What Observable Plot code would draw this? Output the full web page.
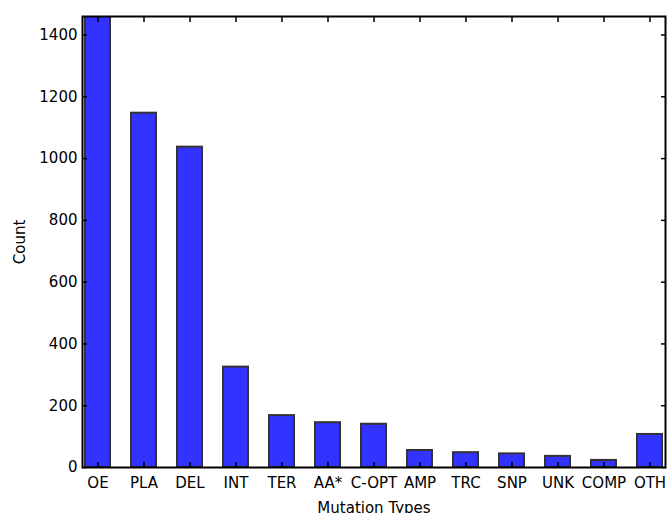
<!DOCTYPE html>
<html>
<head>
<meta charset="utf-8">
<script src="https://cdn.jsdelivr.net/npm/d3@7"></script>
<script src="https://cdn.jsdelivr.net/npm/@observablehq/plot@0.6"></script>
<style>
  html, body { margin: 0; padding: 0; background: white; }
</style>
</head>
<body>
<div id="chart"></div>
<script>
const categories = ["OE", "PLA", "DEL", "INT", "TER", "AA*", "C-OPT", "AMP", "TRC", "SNP", "UNK", "COMP", "OTH"];
const counts = [1460, 1147, 1037, 325, 168, 145, 140, 55, 48, 44, 36, 23, 107];
const yTicks = [0, 200, 400, 600, 800, 1000, 1200, 1400];

const data = categories.map((c, i) => ({type: c, count: counts[i]}));
const blank = () => "";

const chart = Plot.plot({
  width: 670,
  height: 513,
  marginLeft: 82,
  marginRight: 5,
  marginTop: 16,
  marginBottom: 46,
  style: {fontFamily: "DejaVu Sans", fontSize: "15px", background: "white", color: "black"},
  x: {type: "band", domain: categories, paddingInner: 0.45, paddingOuter: 0, align: 0.5},
  y: {domain: [0, 1460]},
  marks: [
    Plot.barY(data, {x: "type", y: "count", fill: "#3333ff", stroke: "#333333", strokeWidth: 2, clip: true}),
    Plot.frame({stroke: "black", strokeWidth: 2}),
    Plot.axisY({anchor: "left", ticks: yTicks, tickSize: -5, strokeWidth: 1.5, tickFormat: blank, label: null}),
    Plot.axisY({anchor: "right", ticks: yTicks, tickSize: -5, strokeWidth: 1.5, tickFormat: blank, label: null}),
    Plot.axisX({anchor: "top", tickSize: -5, strokeWidth: 1.5, tickFormat: blank, label: null}),
    Plot.axisX({anchor: "bottom", tickSize: -5, strokeWidth: 1.5, tickFormat: blank, label: null}),
    Plot.axisY({anchor: "left", ticks: yTicks, tickSize: 0, tickPadding: 5, tickFormat: d => String(d), label: "Count", labelAnchor: "center", labelOffset: 68, labelArrow: "none", fill: "black"}),
    Plot.axisX({anchor: "bottom", tickSize: 0, tickPadding: 10, label: "Mutation Types", labelAnchor: "center", labelOffset: 45, labelArrow: "none", fill: "black"})
  ]
});
document.getElementById("chart").appendChild(chart);
</script>
</body>
</html>
